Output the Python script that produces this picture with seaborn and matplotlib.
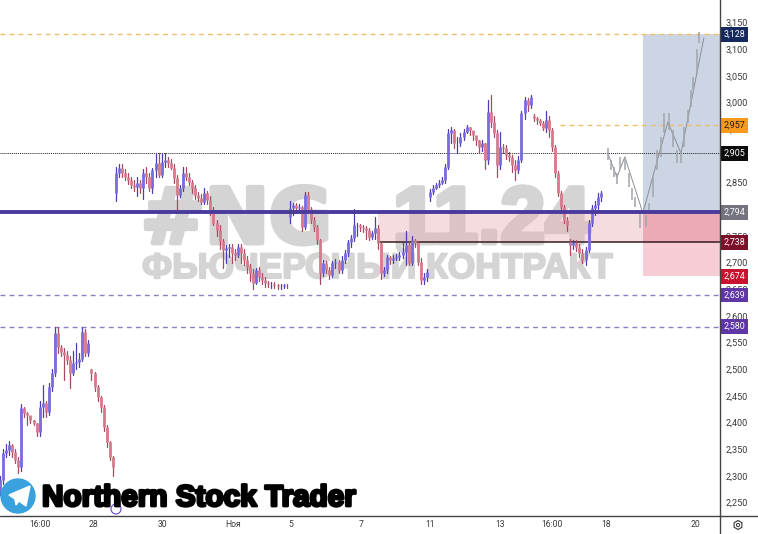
import pandas as pd
import matplotlib
matplotlib.use("Agg")
import matplotlib.pyplot as plt
import matplotlib.patches as patches
import matplotlib.patheffects as pe
import matplotlib.ticker as ticker
from matplotlib.lines import Line2D
from matplotlib.transforms import Affine2D
import seaborn as sns

# candles, one block per gap in the chart
opens_a = [2270,2292,2343,2348,2358,2345,2330,2316,2427,2418,2414,2405,2399,2382,2429,2437,2420,2466,2493,2568,2541,2532,2526,2517,2493,2511,2513,2520,2569,2530,2500,2493,2466,2448,2429,2391,2363,2335]
highs_a = [2300,2350,2360,2365,2360,2350,2335,2435,2430,2420,2412,2405,2400,2440,2470,2440,2475,2500,2580,2580,2545,2540,2535,2525,2535,2550,2530,2580,2575,2555,2500,2495,2470,2450,2432,2395,2365,2337]
lows_a = [2265,2285,2335,2340,2335,2325,2305,2310,2410,2395,2400,2395,2375,2375,2410,2410,2415,2460,2488,2530,2525,2480,2510,2465,2490,2500,2505,2515,2525,2525,2480,2460,2440,2420,2385,2355,2330,2300]
closes_a = [2292,2343,2348,2358,2345,2330,2316,2427,2418,2414,2405,2399,2382,2429,2437,2420,2466,2493,2568,2541,2532,2526,2517,2493,2511,2513,2520,2569,2530,2549,2493,2466,2448,2429,2391,2363,2335,2316]

opens_b = [2830,2868,2877,2868,2860,2855,2845,2842,2850,2840,2868,2860,2840,2873,2887,2864,2889,2892,2887,2877,2858,2827,2840,2868,2860,2851,2840,2827,2821,2814,2830,2818,2799,2775,2761,2740,2723,2727,2729,2718,2714,2729,2718,2705,2692,2680,2662,2686,2673,2667,2662,2660,2660,2658,2656,2656,2658]
highs_b = [2880,2885,2885,2875,2868,2860,2855,2860,2855,2875,2880,2868,2878,2905,2905,2905,2905,2898,2895,2885,2865,2845,2880,2880,2868,2855,2845,2832,2828,2840,2835,2825,2805,2780,2770,2745,2732,2735,2735,2725,2735,2735,2725,2712,2698,2688,2690,2692,2680,2672,2666,2664,2663,2660,2660,2660,2660]
lows_b = [2815,2860,2860,2855,2848,2840,2835,2825,2830,2820,2850,2835,2830,2860,2860,2860,2880,2880,2875,2850,2795,2822,2835,2855,2845,2830,2820,2815,2810,2810,2810,2790,2770,2750,2725,2690,2700,2710,2700,2705,2710,2700,2695,2680,2665,2650,2660,2665,2660,2655,2655,2652,2652,2650,2650,2652,2653]
closes_b = [2868,2877,2868,2860,2855,2845,2842,2850,2840,2868,2860,2840,2873,2887,2864,2889,2892,2887,2877,2858,2827,2840,2868,2860,2851,2840,2827,2821,2814,2830,2818,2799,2775,2761,2740,2723,2727,2729,2718,2714,2729,2718,2705,2692,2680,2662,2686,2673,2667,2662,2660,2660,2658,2656,2656,2658,2657]

opens_c = [2785,2802,2808,2802,2804,2767,2827,2800,2780,2767,2742,2680,2699,2686,2677,2699,2701,2686,2705,2718,2738,2746,2770,2770,2767,2765,2761,2748,2755,2765,2737,2680,2686,2710,2705,2708,2710,2714,2720,2733,2699,2742,2737,2701,2667,2672]
highs_c = [2815,2812,2812,2810,2806,2832,2832,2805,2785,2770,2745,2705,2702,2692,2702,2706,2704,2712,2724,2742,2752,2800,2775,2772,2770,2768,2765,2760,2785,2770,2740,2692,2715,2712,2714,2716,2720,2738,2760,2738,2750,2745,2740,2708,2680,2688]
lows_c = [2775,2790,2795,2795,2760,2762,2795,2775,2760,2735,2660,2675,2680,2670,2672,2690,2680,2680,2700,2712,2730,2740,2750,2760,2758,2745,2742,2745,2745,2725,2670,2675,2680,2698,2700,2704,2705,2708,2695,2695,2695,2730,2695,2660,2660,2665]
closes_c = [2802,2808,2802,2804,2767,2827,2800,2780,2767,2742,2680,2699,2686,2677,2699,2701,2686,2705,2718,2738,2746,2770,2770,2767,2765,2761,2748,2755,2765,2737,2680,2686,2710,2705,2708,2710,2714,2720,2733,2699,2742,2737,2701,2667,2672,2682]

opens_d = [2822,2832,2840,2845,2849,2855,2879,2943,2948,2924,2924,2935,2945,2954,2948,2939,2930,2917,2924,2892,2982,2963,2943,2883,2917,2915,2902,2898,2883,2873,2892,2980,3005,2995,2975,2971,2967,2962,2952,2967,2948,2917,2868,2830,2804,2780,2738,2733,2737,2729,2718,2705,2723,2774,2802,2808,2823]
highs_d = [2838,2845,2850,2855,2860,2885,2950,2955,2950,2935,2942,2950,2958,2955,2945,2938,2930,2930,2925,3005,3015,2975,2948,2945,2922,2920,2908,2902,2892,2900,2985,3010,3008,3015,2978,2973,2970,2965,2985,2975,2952,2920,2872,2835,2808,2785,2745,2742,2742,2735,2725,2730,2780,2808,2815,2830,2835]
lows_d = [2815,2828,2838,2842,2848,2850,2875,2925,2915,2905,2918,2930,2942,2940,2930,2920,2905,2910,2875,2885,2955,2935,2860,2875,2905,2895,2890,2870,2855,2868,2888,2970,2985,2990,2965,2960,2958,2948,2945,2935,2910,2860,2825,2800,2775,2760,2715,2725,2722,2710,2700,2695,2720,2768,2790,2800,2815]
closes_d = [2832,2840,2845,2849,2855,2879,2943,2948,2924,2924,2935,2945,2954,2948,2939,2930,2917,2924,2892,2982,2963,2943,2883,2917,2915,2902,2898,2883,2873,2892,2980,3005,2995,3010,2971,2967,2962,2952,2967,2948,2917,2868,2830,2804,2780,2770,2733,2737,2729,2718,2705,2723,2774,2802,2808,2823,2830]

# hand drawn forecast
path_bars = [199.3, 202.3, 204.9, 210.8, 219, 223.3, 230.8]
path_prices = [2905, 2860, 2898, 2793, 2963, 2905, 3121]
ghost_bars = [199.4,200.5,201.3,202.2,203.3,204.9,206.3,207.3,208.2,210,211.7,212.9,214,215.6,216.6,217.7,219.3,220.8,221.9,223.2,224.4,225.5,226.6,227.3,228.4,229.3]
ghost_tops = [2914,2892,2880,2867,2898,2898,2867,2839,2823,2792,2789,2811,2861,2911,2936,2980,2980,2948,2911,2911,2955,2986,3023,3048,3101,3133]
ghost_bottoms = [2892,2873,2861,2848,2876,2873,2842,2817,2805,2764,2767,2792,2823,2873,2898,2942,2948,2917,2886,2886,2917,2961,2992,3023,3054,3111]

price_ticks = [2250,2300,2350,2400,2450,2500,2550,2600,2650,2700,2750,2800,2850,2900,2950,3000,3050,3100,3150]
time_ticks = [13.1,30.5,53.4,76.4,95.4,118.4,141,163.9,181,198.7,228.2]
time_labels = ["16:00","28","30","Ноя","5","7","11","13","16:00","18","20"]

level_prices = [3128,2957,2905,2794,2738,2674,2639,2580]
level_colors = ["#16295e","#f7991c","#0c0c0c","#74747f","#7c1029","#c8142f","#5e36a6","#5e36a6"]
level_text = ["white","#1a1a1a","white","white","white","white","white","white"]

sns.set_style("white")
plt.rcParams["font.family"] = ["Roboto", "DejaVu Sans"]

opens = opens_a + opens_b + opens_c + opens_d
highs = highs_a + highs_b + highs_c + highs_d
lows = lows_a + lows_b + lows_c + lows_d
closes = closes_a + closes_b + closes_c + closes_d
candles = pd.DataFrame({"open": opens, "high": highs, "low": lows, "close": closes})
candles["bar"] = candles.index
candles["side"] = ["up" if c >= o else "down" for o, c in zip(opens, closes)]

wicks = candles.melt(id_vars=["bar", "side"], value_vars=["high", "low"], value_name="price")
bodies = candles.melt(id_vars=["bar", "side"], value_vars=["open", "close"], value_name="price")
ghosts = pd.DataFrame({"bar": ghost_bars, "top": ghost_tops, "bottom": ghost_bottoms})
ghosts = ghosts.melt(id_vars=["bar"], value_name="price")

fig = plt.figure(figsize=(7.58, 5.34), dpi=100)
ax = fig.add_axes([0, 18 / 534, 720 / 758, 516 / 534])
ax.set_xlim(0, 236.1)
ax.set_ylim(2224.7, 3192.2)
px = Affine2D().scale(1 / 758, -1 / 534).translate(0, 1) + fig.transFigure

# watermark sits under the zones, the pink one lets it show through
mark_color = "#d4d4d4"
ax.text(141, 243, "#NG", transform=px, fontsize=55, fontweight="bold", color=mark_color,
        family="DejaVu Sans", ha="left", va="baseline", zorder=1,
        path_effects=[pe.withStroke(linewidth=3.5, foreground=mark_color)])
ax.text(590, 243, "11.24", transform=px, fontsize=58, fontweight="bold", color=mark_color,
        family="Liberation Sans", ha="right", va="baseline", zorder=1,
        path_effects=[pe.withStroke(linewidth=3.5, foreground=mark_color)])
ax.text(142, 278, "ФЬЮЧЕРСНЫЙ КОНТРАКТ", transform=px, fontsize=25.5, fontweight="bold", color=mark_color,
        family="Liberation Sans", ha="left", va="baseline", zorder=1,
        path_effects=[pe.withStroke(linewidth=1.5, foreground=mark_color)])

# zones
ax.fill_between([124, 210.8], 2738, 2794, color="#e8aab1", alpha=0.4, lw=0, zorder=2)
ax.fill_between([210.8, 236.1], 2794, 3128, color="#ccd5e4", lw=0, zorder=2)
ax.fill_between([210.8, 236.1], 2738, 2794, color="#eca9b6", lw=0, zorder=2)
ax.fill_between([210.8, 236.1], 2674, 2738, color="#f6ccd5", lw=0, zorder=2)

# levels
ax.axhline(3128, color="#f0bd68", lw=1, ls=(0, (3.5, 3)), zorder=3)
ax.plot([183.6, 236.1], [2957, 2957], color="#f0bd68", lw=1, ls=(0, (3.5, 3)), zorder=3)
ax.axhline(2905, color="#222222", lw=0.7, ls=(0, (1, 1)), zorder=3)
ax.axhline(2639, color="#8f7cc4", lw=1, ls=(0, (3.5, 3)), zorder=3)
ax.axhline(2580, color="#8f7cc4", lw=1, ls=(0, (3.5, 3)), zorder=3)
ax.plot([124, 236.1], [2738, 2738], color="#3a1a22", lw=1.1, zorder=3)

# candles
sns.lineplot(data=wicks, x="bar", y="price", hue="side", units="bar", estimator=None, ax=ax, legend=False,
             palette={"up": "#4a3eb4", "down": "#a84a5e"}, lw=0.9, zorder=4)
sns.lineplot(data=bodies, x="bar", y="price", hue="side", units="bar", estimator=None, ax=ax, legend=False,
             palette={"up": "#7a6be0", "down": "#d67a8c"}, lw=2, solid_capstyle="butt", zorder=5)

# forecast
sns.lineplot(x=path_bars, y=path_prices, sort=False, estimator=None, color="#8a8f98", lw=0.7, ax=ax, zorder=5)
sns.lineplot(data=ghosts, x="bar", y="price", units="bar", estimator=None, color="#a2a4aa", lw=1.1, ax=ax,
             solid_capstyle="butt", zorder=5)

ax.axhline(2794, color="#4a3a9e", lw=2.8, zorder=6)

# axes
ax.yaxis.tick_right()
ax.set_yticks(price_ticks)
ax.yaxis.set_major_formatter(ticker.FuncFormatter(lambda v, _: f"{int(v):,}"))
ax.set_xticks(time_ticks)
ax.set_xticklabels(time_labels)
ax.tick_params(axis="y", length=0, pad=4, labelsize=6.6, labelcolor="#3a3a3a")
ax.tick_params(axis="x", length=0, pad=3, labelsize=6.2, labelcolor="#3a3a3a")
ax.set_xlabel("")
ax.set_ylabel("")
ax.grid(False)
for spine in ax.spines.values():
    spine.set_visible(False)
fig.add_artist(Line2D([720, 720], [0, 534], transform=px, color="#444444", lw=1))
fig.add_artist(Line2D([0, 758], [516, 516], transform=px, color="#444444", lw=1))

# price badges
for price, bg, fg in zip(level_prices, level_colors, level_text):
    ax.annotate(f"{price:,}", xy=(734 / 720, price), xycoords=("axes fraction", "data"), fontsize=6.4, color=fg,
                ha="center", va="center", zorder=8, annotation_clip=False,
                bbox=dict(boxstyle="square,pad=0.32", fc=bg, ec="none"))

# logo and channel name
fig.add_artist(patches.Circle((18, 496), 17, transform=px, color="#39a2de"))
fig.add_artist(patches.Polygon([(9, 495), (30, 486), (26, 506), (19, 501), (16, 505), (15, 499)],
                               transform=px, color="white"))
name = fig.text(42, 506, "Northern Stock Trader", transform=px, fontsize=21.4, fontweight="bold", color="black",
                family="Liberation Sans", ha="left", va="baseline")
name.set_path_effects([pe.withStroke(linewidth=2, foreground="black")])
fig.add_artist(patches.Circle((116, 509), 5, transform=px, fc="none", ec="#6a45c0", lw=0.8))

# settings icon
fig.add_artist(patches.RegularPolygon((738, 525), 6, radius=4.5, transform=px, fc="none", ec="#333333", lw=0.8))
fig.add_artist(patches.Circle((738, 525), 1.6, transform=px, fc="none", ec="#333333", lw=0.7))

fig.savefig("out.png", dpi=100)
